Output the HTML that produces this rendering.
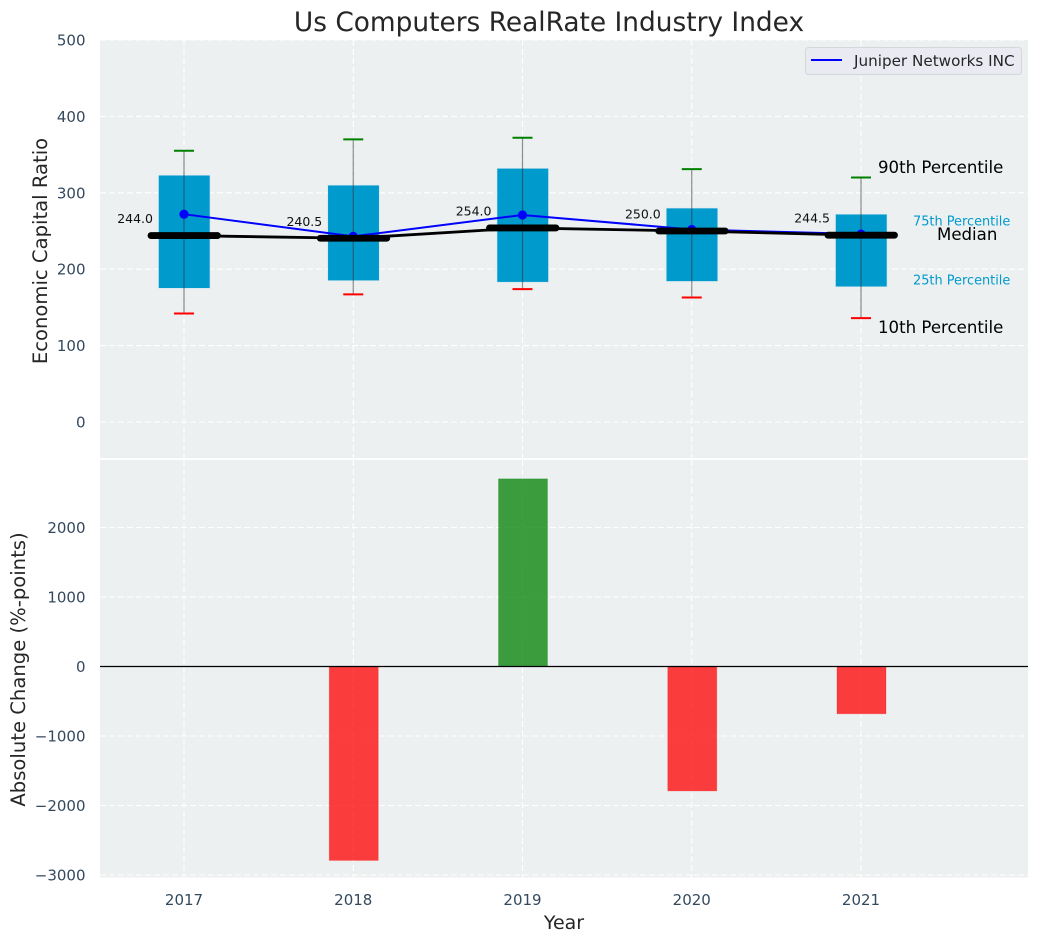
<!DOCTYPE html>
<html>
<head>
<meta charset="utf-8">
<title>Us Computers RealRate Industry Index</title>
<style>
html,body{margin:0;padding:0;background:#fff;width:1039px;height:942px;overflow:hidden}
svg{display:block;font-family:"DejaVu Sans","Liberation Sans",sans-serif}
</style>
</head>
<body>
<svg id="chart" xmlns="http://www.w3.org/2000/svg" width="1039" height="942" viewBox="0 0 1039 942"></svg>
<script>
const years = [2017, 2018, 2019, 2020, 2021];
const p10 = [142, 167, 174, 163, 136];
const p25 = [175, 185, 183, 184, 177];
const medians = [244.0, 240.5, 254.0, 250.0, 244.5];
const p75 = [323, 310, 332, 280, 272];
const p90 = [355, 370, 372, 331, 320];
const companyValues = [272, 243, 271, 252, 246];
const changes = [null, -2790, 2700, -1790, -680];
const topTicks = [0, 100, 200, 300, 400, 500];
const bottomTicks = [-3000, -2000, -1000, 0, 1000, 2000];

const NS = 'http://www.w3.org/2000/svg';
const svg = document.getElementById('chart');
const L = 100, R = 1028;
const xScale = v => 184 + (v - 2017) * 169.25;
const yTop = v => 422 - v * 0.764;
const yBot = v => 666.5 - v * 0.0695;

function mk(tag, attrs, text) {
  const el = document.createElementNS(NS, tag);
  for (const k in attrs) el.setAttribute(k, attrs[k]);
  if (text !== undefined) el.textContent = text;
  svg.appendChild(el);
  return el;
}
const GRID = {stroke:'#ffffff','stroke-width':1.1,'stroke-dasharray':'6 3'};
const TICK = '#34495e';

/* panels */
let e = mk('rect',{x:L,y:40,width:R-L,height:418,fill:'#ecf0f1'});


e = mk('rect',{x:L,y:460,width:R-L,height:417.5,fill:'#ecf0f1'});



/* grid + ticks */
topTicks.forEach(t => {
  const g = mk('line',{x1:L,x2:R,y1:yTop(t),y2:yTop(t),...GRID});
  
  
  const l = mk('text',{x:85.5,y:yTop(t)+5.5,'text-anchor':'end','font-size':15,fill:TICK},String(t));
  
  
});
bottomTicks.forEach(t => {
  const g = mk('line',{x1:L,x2:R,y1:yBot(t),y2:yBot(t),...GRID});
  
  
  const l = mk('text',{x:85.5,y:yBot(t)+5.5,'text-anchor':'end','font-size':15,fill:TICK},String(t).replace('-','\u2212'));
  
  
});
years.forEach(y => {
  const x = xScale(y);
  const g1 = mk('line',{x1:x,x2:x,y1:40,y2:458,...GRID});
  
  
  const g2 = mk('line',{x1:x,x2:x,y1:460,y2:877.5,...GRID});
  
  
  const l = mk('text',{x:x,y:905,'text-anchor':'middle','font-size':15,fill:TICK},String(y));
  
  
});

/* boxes and whiskers */
years.forEach((y,i) => {
  const x = xScale(y);
  const b = mk('rect',{x:x-25.5,y:yTop(p75[i]),width:51.5,height:yTop(p25[i])-yTop(p75[i]),fill:'#009acd',stroke:'#cfe6ef','stroke-width':0.6});
  
  
  const w = mk('line',{x1:x,x2:x,y1:yTop(p90[i]),y2:yTop(p10[i]),stroke:'#333','stroke-width':1.2,'stroke-opacity':0.55});
  
  
  const hi = mk('line',{x1:x-10,x2:x+10,y1:yTop(p90[i]),y2:yTop(p90[i]),stroke:'#008000','stroke-width':2});
  
  
  const lo = mk('line',{x1:x-10,x2:x+10,y1:yTop(p10[i]),y2:yTop(p10[i]),stroke:'#ff0000','stroke-width':2});
  
  
});

/* company line */
const companyPts = years.map((y,i) => xScale(y)+','+yTop(companyValues[i])).join(' ');
e = mk('polyline',{points:companyPts,fill:'none',stroke:'#0000ff','stroke-width':2});


years.forEach((y,i) => {
  const c = mk('circle',{cx:xScale(y),cy:yTop(companyValues[i]),r:4.6,fill:'#0000ff'});
  
  
});

/* median line */
const medianPts = years.map((y,i) => xScale(y)+','+yTop(medians[i])).join(' ');
e = mk('polyline',{points:medianPts,fill:'none',stroke:'#000','stroke-width':2.8});


years.forEach((y,i) => {
  const x = xScale(y), yy = yTop(medians[i]);
  const m = mk('line',{x1:x-33,x2:x+33.5,y1:yy,y2:yy,stroke:'#000','stroke-width':6.8,'stroke-linecap':'round'});
  
  
  const t = mk('text',{x:x-31,y:yy-12.5,'text-anchor':'end','font-size':12.5,fill:'#111'},medians[i].toFixed(1));
  
  
});

/* change bars */
years.forEach((y,i) => {
  if (changes[i] === null) return;
  const x = xScale(y), v = changes[i];
  const top = Math.min(yBot(0), yBot(v)), h = Math.abs(yBot(v) - yBot(0));
  const b = mk('rect',{x:x-24,y:top,width:49,height:h,fill:v>=0?'#008000':'#ff0000','fill-opacity':0.75,stroke:v>=0?'#008000':'#ff0000','stroke-opacity':0.3,'stroke-width':0.8});
  
  
});
e = mk('line',{x1:L,x2:R,y1:yBot(0),y2:yBot(0),stroke:'#000','stroke-width':1.2});



/* percentile key */
e = mk('text',{x:878,y:173,'font-size':16.6,fill:'#000'},'90th Percentile');


e = mk('text',{x:913,y:225.5,'font-size':12.9,fill:'#009acd'},'75th Percentile');


e = mk('text',{x:937,y:240,'font-size':16.6,fill:'#000'},'Median');


e = mk('text',{x:913,y:284.5,'font-size':12.9,fill:'#009acd'},'25th Percentile');


e = mk('text',{x:878,y:333,'font-size':16.6,fill:'#000'},'10th Percentile');



/* legend */
e = mk('rect',{x:805.5,y:47.5,width:216,height:27,rx:3,fill:'#eaeaf2',stroke:'#d5d5dc','stroke-width':1});


e = mk('line',{x1:811,x2:842,y1:60,y2:60,stroke:'#0000ff','stroke-width':2});


e = mk('text',{x:854,y:66,'font-size':15.2,fill:'#262626'},'Juniper Networks INC');



/* titles */
e = mk('text',{x:549,y:31,'text-anchor':'middle','font-size':26.4,fill:'#262626'},'Us Computers RealRate Industry Index');


e = mk('text',{x:564,y:929,'text-anchor':'middle','font-size':19,fill:'#262626'},'Year');


e = mk('text',{x:0,y:0,transform:'translate(47,251) rotate(-90)','text-anchor':'middle','font-size':19.6,fill:'#262626'},'Economic Capital Ratio');


e = mk('text',{x:0,y:0,transform:'translate(25,669.5) rotate(-90)','text-anchor':'middle','font-size':19.6,fill:'#262626'},'Absolute Change (%-points)');


</script>
</body>
</html>
